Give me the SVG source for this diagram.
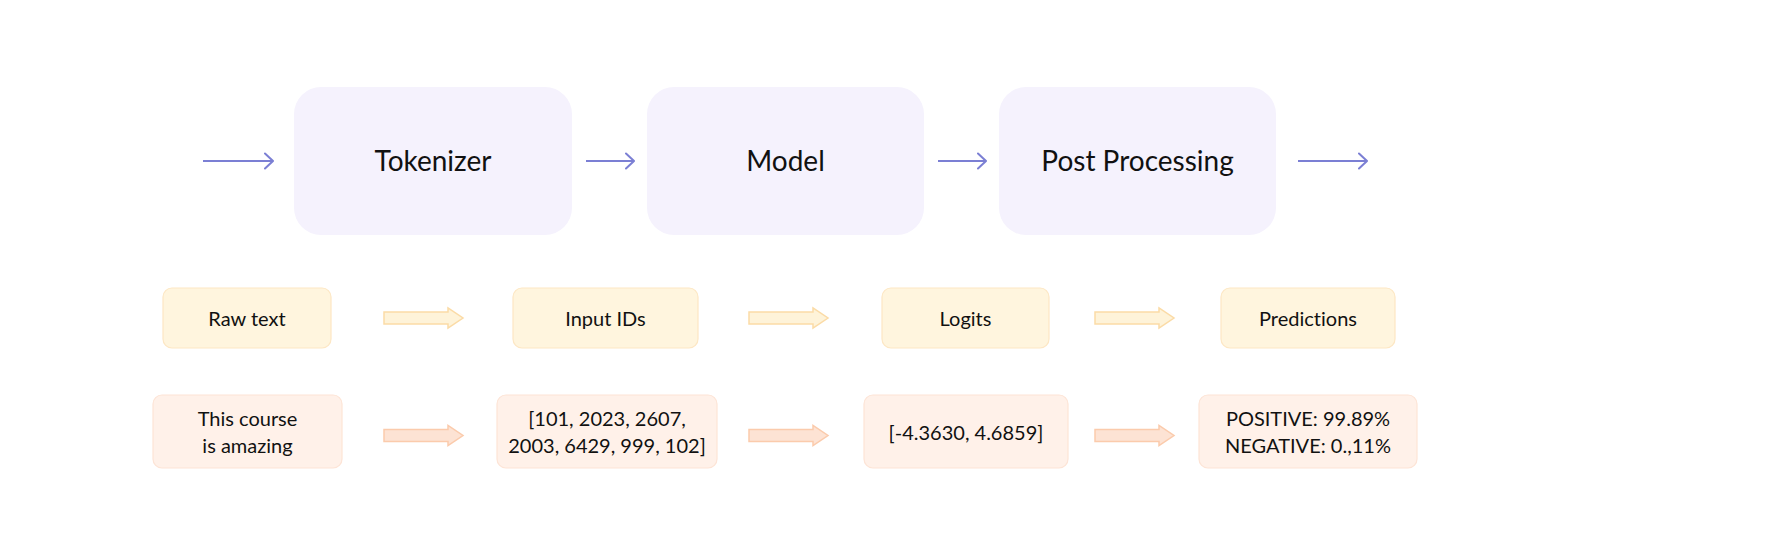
<svg xmlns="http://www.w3.org/2000/svg" width="1768" height="540" viewBox="0 0 1768 540">
<style>
.big{fill:#F5F2FD;}
.mid{fill:#FFF5DE;stroke:#FDE7C4;stroke-width:1.2;}
.low{fill:#FFF1E9;stroke:#FDE4D6;stroke-width:1.2;}
.t{font-family:Lato,"Liberation Sans",sans-serif;fill:#111;text-anchor:middle;font-variant-ligatures:none;font-feature-settings:"liga" 0;}
.tb{font-size:28px;}
.tm{font-size:20px;}
.tl{font-size:20px;}
.line{stroke:#7B7FD4;stroke-width:2;fill:none;}
.ch{stroke:#7B7FD4;stroke-width:2;fill:none;stroke-linecap:round;stroke-linejoin:round;}
.fa1{fill:#FEF3D9;stroke:#FBDBA6;stroke-width:1.5;}
.fa2{fill:#FDE3D4;stroke:#FBCBAC;stroke-width:1.5;}
</style>
<defs>
<path id="fat" d="M0,-6 L64,-6 L64,-10 L79,0 L64,10 L64,6 L0,6 Z"/>
</defs>
<rect width="1768" height="540" fill="#fff"/>
<g id="tokenizer"><rect class="big" x="294" y="87" width="278" height="148" rx="27"/><text class="t tb" x="433" y="171">Tokenizer</text></g>
<g id="model"><rect class="big" x="647" y="87" width="277" height="148" rx="27"/><text class="t tb" x="785.5" y="171">Model</text></g>
<g id="postprocessing"><rect class="big" x="999" y="87" width="277" height="148" rx="27"/><text class="t tb" x="1137.5" y="171">Post Processing</text></g>
<g id="rawtext"><rect class="mid" x="163" y="288" width="168" height="60" rx="9"/><text class="t tm" x="247" y="326">Raw text</text></g>
<g id="inputids"><rect class="mid" x="513" y="288" width="185" height="60" rx="9"/><text class="t tm" x="605.5" y="326">Input IDs</text></g>
<g id="logits"><rect class="mid" x="882" y="288" width="167" height="60" rx="9"/><text class="t tm" x="965.5" y="326">Logits</text></g>
<g id="predictions"><rect class="mid" x="1221" y="288" width="174" height="60" rx="9"/><text class="t tm" x="1308" y="326">Predictions</text></g>
<g id="example-text"><rect class="low" x="153" y="395" width="189" height="73" rx="9"/><text class="t tl" x="247.5" y="426">This course</text><text class="t tl" x="247.5" y="453">is amazing</text></g>
<g id="example-ids"><rect class="low" x="497" y="395" width="220" height="73" rx="9"/><text class="t tl" x="607" y="426">[101, 2023, 2607,</text><text class="t tl" x="607" y="453">2003, 6429, 999, 102]</text></g>
<g id="example-logits"><rect class="low" x="864" y="395" width="204" height="73" rx="9"/><text class="t tl" x="966" y="440">[-4.3630, 4.6859]</text></g>
<g id="example-predictions"><rect class="low" x="1199" y="395" width="218" height="73" rx="9"/><text class="t tl" x="1308" y="426">POSITIVE: 99.89%</text><text class="t tl" x="1308" y="453">NEGATIVE: 0.,11%</text></g>
<g id="connectors">
<path class="line" d="M203,161H273M586,161H634M938,161H986M1298,161H1367"/>
<path class="ch" d="M265,153.5L273,161L265,168.5M626,153.5L634,161L626,168.5M978,153.5L986,161L978,168.5M1359,153.5L1367,161L1359,168.5"/>
<use href="#fat" class="fa1" x="384" y="318"/>
<use href="#fat" class="fa1" x="749" y="318"/>
<use href="#fat" class="fa1" x="1095" y="318"/>
<use href="#fat" class="fa2" x="384" y="435.5"/>
<use href="#fat" class="fa2" x="749" y="435.5"/>
<use href="#fat" class="fa2" x="1095" y="435.5"/>
</g>
</svg>
